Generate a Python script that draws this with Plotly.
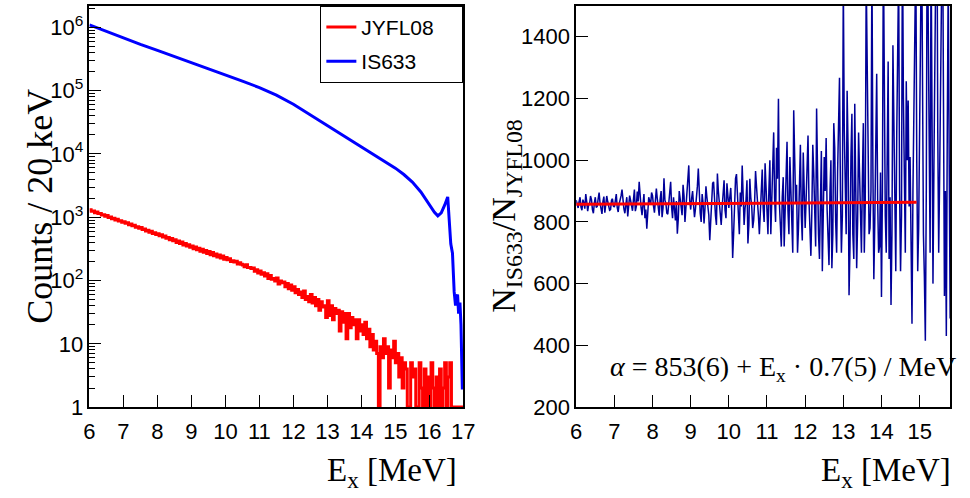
import numpy as np
import plotly.graph_objects as go

# ---------------- data ----------------
# Left panel, IS633 spectrum (counts / 20 keV)
is633_ex = [6.0, 6.5, 7.0, 7.5, 8.0, 8.5, 9.0, 9.5, 10.0, 10.5, 11.0, 11.5, 12.0, 12.5,
            13.0, 13.5, 14.0, 14.5, 15.0, 15.25, 15.5, 15.75, 16.0, 16.15, 16.25, 16.35,
            16.45, 16.54, 16.63, 16.68, 16.73, 16.77, 16.80, 16.83, 16.86, 16.90, 16.93, 16.97]
is633_counts = [1.096e6, 8.61e5, 6.76e5, 5.37e5, 4.32e5, 3.47e5, 2.79e5, 2.24e5, 1.78e5, 1.41e5,
                1.12e5, 8.5e4, 6.1e4, 4.15e4, 2.79e4, 1.91e4, 1.30e4, 8.91e3, 5.96e3, 4.73e3,
                3.59e3, 2.51e3, 1.55e3, 1.20e3, 1.05e3, 1.17e3, 1.55e3, 2.09e3, 380, 270,
                66, 40, 55, 60, 30, 45, 20, 1.9]

# Left panel, JYFL08 spectrum, 0.05 MeV bins starting at 6.00 MeV
jyfl_bin_start = 6.0
jyfl_bin_width = 0.05
jyfl_counts = [
    1310, 1245, 1250, 1180, 1205, 1140, 1150, 1085, 1095, 1040, 1060, 990, 1005, 950, 965, 905, 925, 870, 880, 835,
    845, 800, 815, 760, 780, 730, 745, 695, 710, 670, 690, 640, 650, 605, 625, 580, 600, 555, 570, 535,
    550, 510, 530, 485, 505, 465, 480, 440, 462, 425, 440, 400, 420, 385, 405, 365, 385, 350, 368, 335,
    352, 318, 338, 305, 322, 290, 312, 280, 298, 268, 288, 255, 276, 247, 262, 236, 254, 226, 243, 217,
    230, 212, 221, 200, 206, 196, 201, 182, 190, 180, 176, 165, 177, 160, 160, 155, 158, 140, 148, 132,
    141, 126, 133, 118, 128, 108, 120, 105, 108, 98, 110, 88, 98, 92, 95, 80, 90, 74, 85, 70,
    80, 64, 72, 60, 66, 54, 68, 50, 56, 46, 60, 44, 54, 40, 50, 34, 46, 38, 40, 26,
    48, 28, 40, 24, 36, 30, 34, 16, 32, 22, 30, 12, 30, 18, 26, 20, 24, 12, 24, 16,
    20, 14, 22, 12, 17, 9, 14, 8, 11, 7, 0, 9, 6, 12, 7, 9, 2, 8, 6, 11,
    5, 7, 3, 6, 2, 5, 4, 1, 0, 5, 3, 4, 1, 0, 5, 2, 0, 4, 1, 3,
    0, 5, 2, 0, 3, 1, 4, 0, 2, 5, 0, 3, 5, 1, 0, 0, 0, 0, 0, 0,
]
jyfl_end = 17.0

# Right panel, ratio N_IS633 / N_JYFL08, every 0.025 MeV from 6.000 MeV
ratio_start = 6.0
ratio_step = 0.025
ratio_vals = [
    870, 852, 845, 866, 880, 848, 838, 872, 862, 843, 890, 866, 835, 855, 858, 884, 872, 840, 828, 861,
    880, 847, 850, 875, 895, 860, 842, 826, 866, 882, 830, 852, 884, 866, 856, 838, 840, 870, 875, 851,
    848, 872, 890, 846, 832, 858, 870, 884, 905, 866, 842, 828, 860, 880, 818, 846, 885, 870, 850, 836,
    872, 905, 835, 850, 898, 866, 930, 880, 846, 822, 868, 890, 812, 840, 778, 830, 880, 868, 855, 895,
    885, 852, 830, 868, 908, 875, 852, 820, 874, 900, 815, 845, 941, 870, 860, 828, 825, 862, 895, 930,
    848, 812, 880, 850, 805, 868, 762, 810, 900, 875, 845, 822, 920, 885, 800, 842, 872, 915, 983, 870,
    840, 876, 900, 855, 815, 842, 870, 915, 973, 880, 828, 800, 890, 860, 795, 845, 915, 880, 850, 822,
    741, 800, 880, 925, 930, 866, 820, 790, 957, 900, 862, 835, 790, 848, 905, 935, 838, 812, 925, 880,
    845, 880, 910, 835, 683, 760, 880, 940, 955, 872, 820, 760, 895, 850, 983, 905, 790, 845, 870, 935,
    730, 790, 940, 880, 850, 780, 805, 862, 965, 915, 880, 820, 760, 845, 925, 970, 845, 800, 990, 900,
    830, 760, 905, 1000, 760, 850, 960, 1090, 875, 800, 1040, 940, 1199, 860, 790, 720, 880, 945, 720, 810,
    950, 1060, 835, 760, 1010, 900, 770, 700, 1162, 980, 860, 920, 700, 780, 945, 1050, 820, 740, 1025, 930,
    780, 870, 985, 1080, 870, 760, 690, 830, 1050, 960, 820, 720, 1167, 940, 760, 680, 930, 1030, 640, 780,
    1010, 900, 1072, 840, 720, 660, 895, 1000, 650, 760, 1120, 1040, 800, 700, 960, 1090, 1267, 900, 700, 820,
    1580, 1100, 880, 760, 1225, 1040, 562, 720, 1010, 1150, 760, 680, 1183, 900, 650, 800, 1090, 960, 820, 700,
    940, 1120, 700, 860, 1600, 1200, 1050, 760, 780, 900, 1650, 980, 614, 800, 1130, 1280, 870, 700, 720, 960,
    557, 900, 1700, 1180, 820, 700, 1150, 1320, 680, 880, 531, 760, 1372, 1100, 760, 640, 1080, 1250, 1620, 900,
    640, 820, 1750, 1200, 900, 700, 1256, 1000, 1193, 850, 1010, 760, 470, 900, 1120, 1400, 1680, 1000, 640, 780,
    1050, 1420, 1800, 1000, 760, 620, 415, 900, 1900, 1450, 980, 700, 1700, 1300, 600, 980, 1450, 1800, 2000, 1100,
    700, 950, 1380, 1600, 1850, 1200, 560, 900, 430, 1100, 1600, 1000, 487,
]

# Fit line (end points)
fit_ex = [6.0, 14.92]
fit_val = [857.2, 863.4]

left_xticks = [6, 7, 8, 9, 10, 11, 12, 13, 14, 15, 16, 17]
left_yticks = [1, 10, 100, 1000, 1e4, 1e5, 1e6]
left_yticktext = ["1", "10", "10<sup>2</sup>", "10<sup>3</sup>", "10<sup>4</sup>", "10<sup>5</sup>", "10<sup>6</sup>"]
right_xticks = [6, 7, 8, 9, 10, 11, 12, 13, 14, 15]
right_yticks = [200, 400, 600, 800, 1000, 1200, 1400]

legend_names = ["JYFL08", "IS633"]
fit_text = "<i>α</i> = 853(6) + E<sub>x</sub> · 0.7(5) / MeV"

# ---------------- derived ----------------
n = len(jyfl_counts)
jyfl_edges = list(np.round(jyfl_bin_start + jyfl_bin_width * np.arange(n), 3)) + [jyfl_end]
jc = np.array(jyfl_counts, dtype=float)
jc_disp = np.where(jc > 0, jc, 1.0)
jyfl_y = list(jc_disp) + [jc_disp[-1]]

ratio_ex = list(np.round(ratio_start + ratio_step * np.arange(len(ratio_vals)), 4))

minor_vals = [m * 10 ** k for k in range(0, 7) for m in range(2, 10)]

W, H = 970, 498
def px(x):
    return x / W
def py(y):
    return 1 - y / H

pad = "\u00a0" * 4  # extra room on the right of legend entries

fig = go.Figure()
fig.add_trace(go.Scatter(x=jyfl_edges, y=jyfl_y, mode="lines", name=legend_names[0] + pad, legendgroup="a",
                         line=dict(color="#ff0000", width=3, shape="hv"), xaxis="x", yaxis="y"))
fig.add_trace(go.Scatter(x=is633_ex, y=is633_counts, mode="lines", name=legend_names[1] + pad, legendgroup="b",
                         line=dict(color="#0000ff", width=3), xaxis="x", yaxis="y"))
fig.add_trace(go.Scatter(x=ratio_ex, y=ratio_vals, mode="lines", showlegend=False,
                         line=dict(color="#000099", width=1.5), xaxis="x2", yaxis="y2"))
fig.add_trace(go.Scatter(x=fit_ex, y=fit_val, mode="lines", showlegend=False,
                         line=dict(color="#ff0000", width=3), xaxis="x2", yaxis="y2"))

tickfont = dict(family="Liberation Sans, Arial, sans-serif", size=22, color="black")
common = dict(showgrid=False, zeroline=False, showline=True, linecolor="black", linewidth=1.5,
              mirror=True, ticks="inside", ticklen=12, tickwidth=1.2, tickcolor="black",
              tickfont=tickfont)

fig.update_layout(
    width=W, height=H,
    margin=dict(l=0, r=0, t=0, b=0),
    paper_bgcolor="white", plot_bgcolor="white",
    xaxis=dict(domain=[px(85), px(466)], range=[6, 17], anchor="y",
               tickmode="array", tickvals=left_xticks, ticklabelstandoff=4, **common),
    yaxis=dict(domain=[py(418), py(6)], type="log", range=[0, 6.34], anchor="x",
               tickmode="array", tickvals=left_yticks, ticktext=left_yticktext,
               minor=dict(tickmode="array", tickvals=minor_vals, ticks="inside", ticklen=6,
                          tickwidth=1, tickcolor="black"),
               **common),
    xaxis2=dict(domain=[px(581), px(962)], range=[6, 15.8], anchor="y2",
                tickmode="array", tickvals=right_xticks, ticklabelstandoff=4, **common),
    yaxis2=dict(domain=[py(418), py(6)], range=[200, 1500], anchor="x2",
                tickmode="array", tickvals=right_yticks, **common),
    legend=dict(x=px(466), xanchor="right", y=py(6), yanchor="top",
                bordercolor="black", borderwidth=1, bgcolor="white",
                font=dict(family="Liberation Sans, Arial, sans-serif", size=21, color="black"),
                itemwidth=30, tracegroupgap=4),
    showlegend=True,
)

serif = "Liberation Serif, Times New Roman, serif"
ann = [
    dict(text="Counts / 20 keV", x=px(35), y=py(212), textangle=-90, font=dict(size=36)),
    dict(text="E<sub>x</sub> [MeV]", x=px(462), y=py(485), xanchor="right", font=dict(size=33)),
    dict(text="E<sub>x</sub> [MeV]", x=px(965), y=py(485), xanchor="right", font=dict(size=33)),
    dict(text="N<sub>IS633</sub>/N<sub>JYFL08</sub>", x=px(510), y=py(222), textangle=-90, font=dict(size=34)),
    dict(text=fit_text, x=px(613), y=py(378), xanchor="left", font=dict(size=28)),
]
for a in ann:
    a.setdefault("xanchor", "center")
    a["yanchor"] = "middle"
    a["xref"] = "paper"
    a["yref"] = "paper"
    a["showarrow"] = False
    a["font"] = dict(family=serif, color="black", **a["font"])
fig.update_layout(annotations=ann)

fig.write_html("out.html")
